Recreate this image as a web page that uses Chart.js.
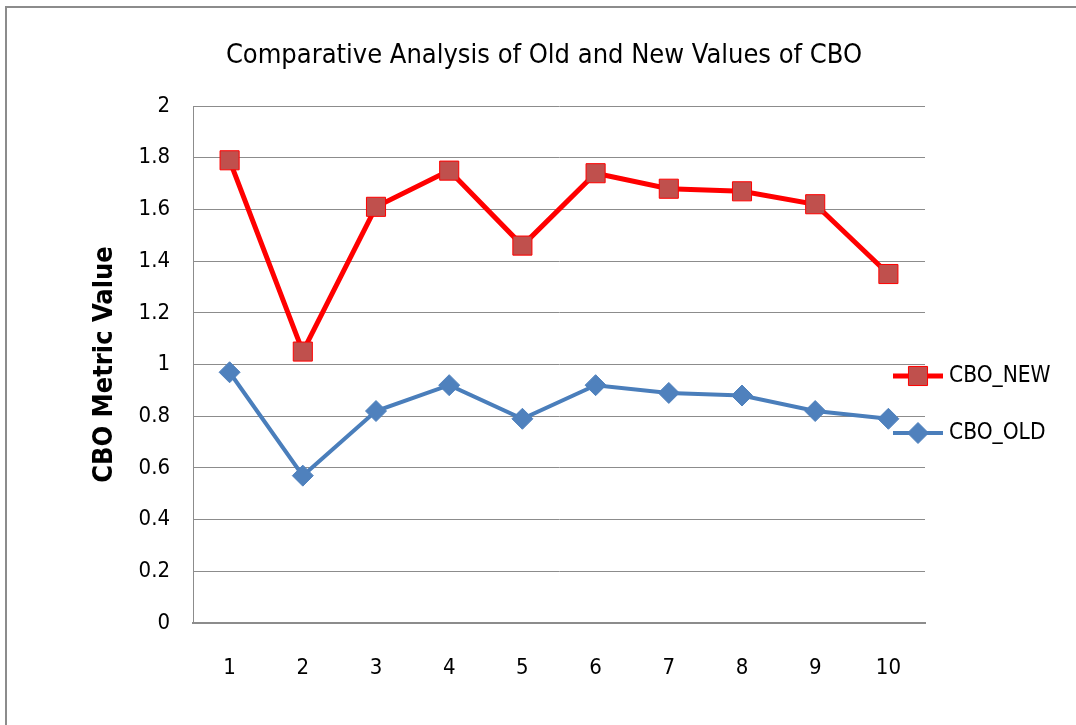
<!DOCTYPE html>
<html>
<head>
<meta charset="utf-8">
<script src="https://cdn.jsdelivr.net/npm/chart.js@4"></script>
<style>
  body { margin: 0; background: #fff; }
  #frame {
    position: absolute; left: 5px; top: 6px; width: 1080px; height: 730px;
    border-left: 2px solid #8c8c8c; border-top: 2px solid #8c8c8c;
  }
  #wrap { position: absolute; left: 0; top: 0; width: 1076px; height: 725px; }
</style>
</head>
<body>
<div id="frame"></div>
<div id="wrap"><canvas id="myChart" width="1076" height="725"></canvas></div>
<script>
const titulo = "Comparative Analysis of Old and New Values of CBO";
const categorias = ["1", "2", "3", "4", "5", "6", "7", "8", "9", "10"];
const cboNew = [1.79, 1.05, 1.61, 1.75, 1.46, 1.74, 1.68, 1.67, 1.62, 1.35];
const cboOld = [0.97, 0.57, 0.82, 0.92, 0.79, 0.92, 0.89, 0.88, 0.82, 0.79];
const ticksY = [0, 0.2, 0.4, 0.6, 0.8, 1, 1.2, 1.4, 1.6, 1.8, 2];

const fuente = "'Liberation Sans Narrow', 'DejaVu Sans Condensed', 'Liberation Sans', sans-serif";
const ctx = document.querySelector("#myChart");

// titulo y leyenda estilo Excel (linea con marcador en medio)
const extras = {
  id: "extras",
  afterDraw(chart) {
    const c = chart.ctx;
    c.save();
    c.fillStyle = "#000";
    c.font = "27px " + fuente;
    c.textAlign = "center";
    c.textBaseline = "middle";
    c.fillText(titulo, 544, 56);
    c.restore();

    const filas = [376, 433];
    chart.data.datasets.forEach((ds, i) => {
      const y = filas[i];
      c.save();
      c.strokeStyle = ds.borderColor;
      c.lineWidth = ds.borderWidth;
      c.beginPath();
      c.moveTo(893, y);
      c.lineTo(943, y);
      c.stroke();
      c.fillStyle = ds.pointBackgroundColor;
      c.strokeStyle = ds.pointBorderColor;
      c.lineWidth = 1;
      Chart.helpers.drawPoint(c, { pointStyle: ds.pointStyle, radius: ds.pointRadius, borderWidth: 1 }, 918, y);
      c.fillStyle = "#000";
      c.font = "22.5px " + fuente;
      c.textBaseline = "middle";
      c.fillText(ds.label, 949, y);
      c.restore();
    });
  }
};

new Chart(ctx, {
  type: "line",
  data: {
    labels: categorias,
    datasets: [
      {
        label: "CBO_NEW",
        data: cboNew,
        borderColor: "#ff0000",
        borderWidth: 5,
        pointStyle: "rect",
        pointRadius: 13.5,
        pointHoverRadius: 13.5,
        pointBackgroundColor: "#c0504d",
        pointBorderColor: "#ff0000",
        pointBorderWidth: 1,
        tension: 0
      },
      {
        label: "CBO_OLD",
        data: cboOld,
        borderColor: "#4a7ebb",
        borderWidth: 4,
        pointStyle: "rectRot",
        pointRadius: 10.5,
        pointHoverRadius: 10.5,
        pointBackgroundColor: "#4f81bd",
        pointBorderColor: "#4f81bd",
        pointBorderWidth: 1,
        tension: 0
      }
    ]
  },
  options: {
    responsive: false,
    animation: false,
    layout: { padding: { left: 0, right: 151, top: 106, bottom: 0 } },
    plugins: {
      legend: { display: false },
      tooltip: { enabled: false },
      title: { display: false }
    },
    scales: {
      x: {
        offset: true,
        grid: { color: "transparent", drawTicks: false },
        border: { display: true, color: "#8c8c8c", width: 2 },
        ticks: { color: "#000", font: { family: fuente, size: 22 }, padding: 32 },
        afterFit: (s) => { s.height = 102; }
      },
      y: {
        min: 0,
        max: 2,
        afterBuildTicks: (s) => { s.ticks = ticksY.map((v) => ({ value: v })); },
        grid: { color: "#8c8c8c", lineWidth: 1, drawTicks: false },
        border: { display: true, color: "#8c8c8c", width: 1 },
        ticks: {
          color: "#000",
          font: { family: fuente, size: 22 },
          padding: 23,
          callback: (v) => String(v)
        },
        title: {
          display: true,
          text: "CBO Metric Value",
          color: "#000",
          font: { family: fuente, size: 27, weight: "bold" },
          padding: { top: 89, bottom: 0 }
        },
        afterFit: (s) => { s.width = 193; }
      }
    }
  },
  plugins: [extras]
});
</script>
</body>
</html>
